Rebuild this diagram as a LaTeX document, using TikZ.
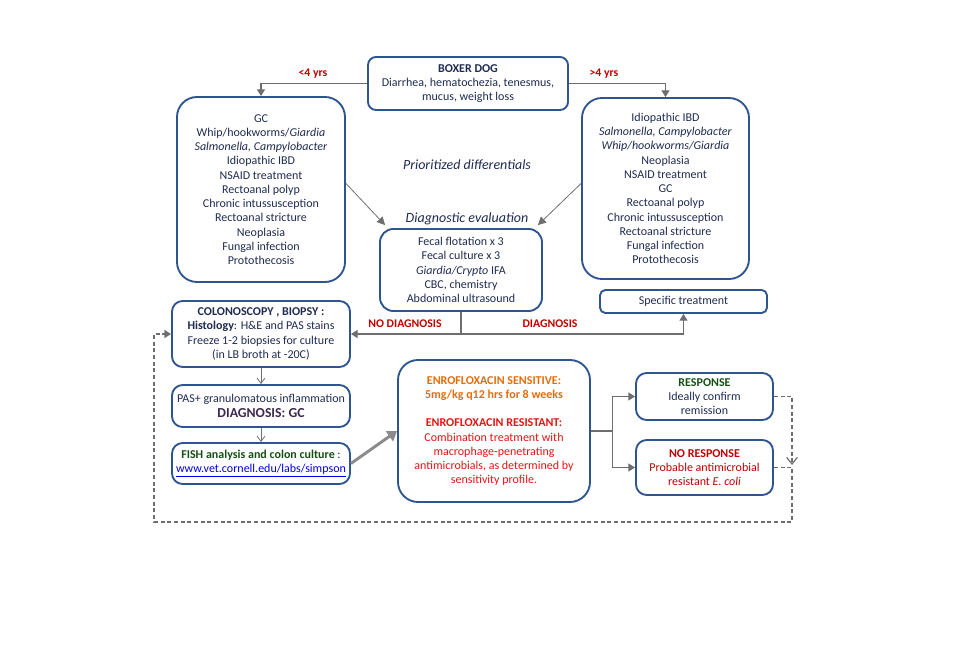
\documentclass[tikz,border=0pt]{standalone}
\usepackage{fontspec}
\setmainfont{Carlito}
\usepackage{tikz}
\usetikzlibrary{arrows.meta, positioning, calc}
\definecolor{BoxBlue}{RGB}{47,85,143}
\definecolor{TextNavy}{RGB}{31,43,80}
\definecolor{ArrowGrey}{RGB}{110,110,110}
\definecolor{AlertRed}{RGB}{192,0,0}
\definecolor{BrightRed}{RGB}{230,20,20}
\definecolor{SensOrange}{RGB}{228,108,10}
\definecolor{RespGreen}{RGB}{20,80,20}
\definecolor{DiagPurple}{RGB}{60,40,80}
\definecolor{LinkBlue}{RGB}{0,0,230}
\tikzset{
  box/.style={draw=BoxBlue, line width=1.4pt, rounded corners=6pt, align=center,
    text=TextNavy, font=\fontsize{9}{10.7}\selectfont, inner sep=2pt},
  bigbox/.style={box, rounded corners=15pt},
  arr/.style={ArrowGrey, line width=0.8pt, -{Triangle[length=5pt,width=6pt]}},
  thinarr/.style={ArrowGrey, line width=0.6pt, -{Straight Barb[length=4pt,width=6pt]}},
  dasharr/.style={ArrowGrey, line width=0.9pt, dashed, dash pattern=on 3pt off 2pt},
  lbl/.style={font=\fontsize{8.8}{10.5}\selectfont\bfseries, text=AlertRed},
  title/.style={font=\fontsize{10.5}{12}\selectfont\itshape, text=TextNavy}
}
\begin{document}
\begin{tikzpicture}[x=0.75pt, y=-0.75pt]
  \useasboundingbox (0,0) rectangle (972,648);
  % Top
  \node[box, minimum width=150pt, minimum height=39.75pt] (boxer) at (468,83.5)
    {\textbf{BOXER DOG}\\Diarrhea, hematochezia, tenesmus,\\mucus, weight loss};
  % Differentials
  \node[bigbox, minimum width=126pt, minimum height=138.75pt] (young) at (261,189.5)
    {GC\\Whip/hookworms/\textit{Giardia}\\\textit{Salmonella, Campylobacter}\\Idiopathic IBD\\NSAID treatment\\Rectoanal polyp\\Chronic intussusception\\Rectoanal stricture\\Neoplasia\\Fungal infection\\Protothecosis};
  \node[bigbox, minimum width=125.25pt, minimum height=135.75pt] (old) at (665.5,188.5)
    {Idiopathic IBD\\\textit{Salmonella, Campylobacter}\\\textit{Whip/hookworms/Giardia}\\Neoplasia\\NSAID treatment\\GC\\Rectoanal polyp\\Chronic intussusception\\Rectoanal stricture\\Fungal infection\\Protothecosis};
  \node[title] (prio) at (467,165) {Prioritized differentials};
  \node[title] (diag) at (467,219) {Diagnostic evaluation};
  \node[box, rounded corners=10pt, minimum width=121.5pt, minimum height=61.5pt] (evalbox) at (461,270)
    {Fecal flotation x 3\\Fecal culture x 3\\\textit{Giardia/Crypto} IFA\\CBC, chemistry\\Abdominal ultrasound};
  \node[box, rounded corners=4pt, minimum width=125.25pt, minimum height=17.25pt] (spec) at (683.5,301.5)
    {Specific treatment};
  % Work-up
  \node[box, rounded corners=8pt, minimum width=133.5pt, minimum height=49.5pt] (colon) at (261,334)
    {\textbf{COLONOSCOPY , BIOPSY :}\\\textbf{Histology}: H\&E and PAS stains\\Freeze 1-2 biopsies for culture\\(in LB broth at -20C)};
  \node[box, rounded corners=8pt, minimum width=133.5pt, minimum height=31.5pt] (pas) at (261,406)
    {PAS+ granulomatous inflammation\\[1pt]{\fontsize{10.3}{12}\selectfont\bfseries\color{DiagPurple}DIAGNOSIS: GC}};
  \node[box, rounded corners=8pt, minimum width=133.5pt, minimum height=30.75pt] (fish) at (261,463.5)
    {\textbf{\color{RespGreen}FISH analysis and colon culture} :\\{\color{LinkBlue}\underline{www.vet.cornell.edu/labs/simpson}}};
  % Treatment
  \node[bigbox, minimum width=144pt, minimum height=106.5pt] (enro) at (494,431)
    {\textbf{\color{SensOrange}ENROFLOXACIN SENSITIVE:}\\\textbf{\color{SensOrange}5mg/kg q12 hrs for 8 weeks}\\[10.7pt]
     \color{BrightRed}\textbf{ENROFLOXACIN RESISTANT:}\\\color{BrightRed}Combination treatment with\\\color{BrightRed}macrophage-penetrating\\\color{BrightRed}antimicrobials, as determined by\\\color{BrightRed}sensitivity profile.};
  \node[box, rounded corners=8pt, minimum width=102.75pt, minimum height=35.25pt] (resp) at (704.5,396.5)
    {\textbf{\color{RespGreen}RESPONSE}\\Ideally confirm\\remission};
  \node[box, rounded corners=8pt, minimum width=102.75pt, minimum height=41.25pt, text=AlertRed] (noresp) at (704.5,467.5)
    {\textbf{NO RESPONSE}\\Probable antimicrobial\\resistant \textit{E. coli}};
  % Connectors
  \draw[arr] (boxer.west) -| (young.north);
  \draw[arr] (boxer.east) -| (old.north);
  \node[lbl] (younger) at (313,74) {<4 yrs};
  \node[lbl] (older) at (604,74) {>4 yrs};
  \draw[ArrowGrey, line width=0.6pt, -{Triangle[length=6pt,width=6pt]}] ($(young.east)+(0,-6)$) -- ($(evalbox.north west)+(6,-3)$);
  \draw[ArrowGrey, line width=0.6pt, -{Triangle[length=6pt,width=6pt]}] ($(old.west)+(0,-5)$) -- ($(evalbox.north east)+(-5,-3)$);
  \coordinate (split) at (evalbox.south |- colon.east);
  \draw[ArrowGrey, line width=0.8pt] (evalbox.south) -- (split);
  \draw[arr] (split) -- (colon.east);
  \draw[arr] (split) -| (spec.south);
  \node[lbl] (nodiag) at (405,324) {NO DIAGNOSIS};
  \node[lbl] (yesdiag) at (550,324) {DIAGNOSIS};
  \draw[thinarr] (colon) -- (pas);
  \draw[thinarr] (pas) -- (fish);
  \draw[ArrowGrey!80, line width=2.2pt, -{Triangle[length=7pt,width=9pt]}] (fish.east) -- (enro.west);
  \draw[ArrowGrey, line width=0.8pt] (enro.east) -- ++(22,0) coordinate (fork);
  \draw[arr] (fork) |- (resp.west);
  \draw[arr] (fork) |- (noresp.west);
  % Loop back
  \coordinate (loop) at (792,465);
  \coordinate (back) at (792,522);
  \draw[dasharr, -{Straight Barb[length=5pt,width=8pt]}] (resp.east) -| (loop);
  \draw[dasharr, -{Triangle[length=5pt,width=6pt]}] (noresp.east) -| (back) -| ($(colon.west)+(-17,0)$) -- (colon.west);
\end{tikzpicture}
\end{document}
